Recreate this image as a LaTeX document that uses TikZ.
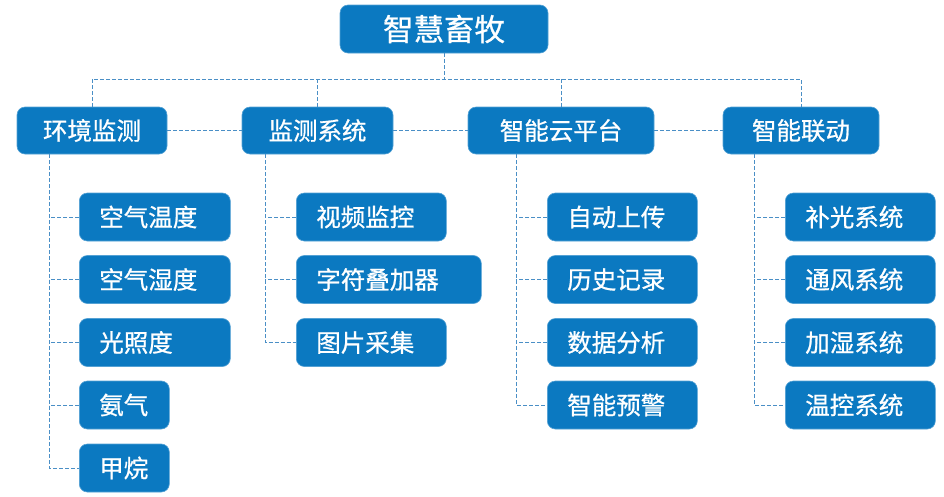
\documentclass[tikz,border=0pt]{standalone}
\usepackage{fontspec}
\setmainfont{Noto Sans CJK SC}[BoldFont={Noto Sans CJK SC},BoldFeatures={FakeBold=0.8}]
\definecolor{boxblue}{HTML}{0B79C1}
\definecolor{lineblue}{HTML}{4A8FC6}
\begin{document}
\begin{tikzpicture}[x=1pt,y=-1pt,
  base/.style={fill=boxblue,draw=boxblue!70!white,line width=0.6pt,rounded corners=8pt,text=white,inner sep=0pt,minimum height=48pt},
  titlebox/.style={base,minimum width=208pt,font=\fontsize{30.5}{33}\selectfont\bfseries},
  lvlbox/.style={base,minimum height=47pt,minimum width=#1,font=\fontsize{24.5}{27}\selectfont\bfseries},
  childbox/.style={base,anchor=west,inner xsep=20pt,text width=#1-40pt,align=left,font=\fontsize{24.5}{27}\selectfont\bfseries},
  conn/.style={draw=lineblue,line width=0.9pt,dash pattern=on 4pt off 2pt}]
\useasboundingbox (0,0) rectangle (944,496);
% top
\node[titlebox] (top) at (444,29) {智慧畜牧};
% level 1
\node[lvlbox=150pt] (a1) at (92,130.5) {环境监测};
\node[lvlbox=151pt] (a2) at (317.5,130.5) {监测系统};
\node[lvlbox=186pt] (a3) at (561,130.5) {智能云平台};
\node[lvlbox=156pt] (a4) at (801,130.5) {智能联动};
% children column 1
\node[childbox=151pt] (c11) at (79,217) {空气温度};
\node[childbox=151pt] (c12) at (79,279.5) {空气湿度};
\node[childbox=151pt] (c13) at (79,342.5) {光照度};
\node[childbox=90pt] (c14) at (79,405) {氨气};
\node[childbox=90pt] (c15) at (79,468) {甲烷};
% column 2
\node[childbox=150pt] (c21) at (296,217) {视频监控};
\node[childbox=185pt] (c22) at (296,279.5) {字符叠加器};
\node[childbox=150pt] (c23) at (296,342.5) {图片采集};
% column 3
\node[childbox=150pt] (c31) at (547,217) {自动上传};
\node[childbox=150pt] (c32) at (547,279.5) {历史记录};
\node[childbox=150pt] (c33) at (547,342.5) {数据分析};
\node[childbox=150pt] (c34) at (547,405) {智能预警};
% column 4
\node[childbox=150pt] (c41) at (785,217) {补光系统};
\node[childbox=150pt] (c42) at (785,279.5) {通风系统};
\node[childbox=150pt] (c43) at (785,342.5) {加湿系统};
\node[childbox=150pt] (c44) at (785,405) {温控系统};
% bus
\coordinate (bus) at (0,79);
\draw[conn] (top.south) -- (top.south |- bus);
\draw[conn] (a1.north) -- (a1.north |- bus) -- (a4.north |- bus) -- (a4.north);
\draw[conn] (a2.north) -- (a2.north |- bus);
\draw[conn] (a3.north) -- (a3.north |- bus);
% level-1 links
\draw[conn] (a1.east) -- (a2.west);
\draw[conn] (a2.east) -- (a3.west);
\draw[conn] (a3.east) -- (a4.west);
% trunks
\coordinate (t1) at (49,154);
\coordinate (t2) at (265,154);
\coordinate (t3) at (516,154);
\coordinate (t4) at (754,154);
\draw[conn] (t1) |- (c15.west);
\foreach \c in {c11,c12,c13,c14} \draw[conn] (\c.west) -- (\c.west -| t1);
\draw[conn] (t2) |- (c23.west);
\foreach \c in {c21,c22} \draw[conn] (\c.west) -- (\c.west -| t2);
\draw[conn] (t3) |- (c34.west);
\foreach \c in {c31,c32,c33} \draw[conn] (\c.west) -- (\c.west -| t3);
\draw[conn] (t4) |- (c44.west);
\foreach \c in {c41,c42,c43} \draw[conn] (\c.west) -- (\c.west -| t4);
\end{tikzpicture}
\end{document}
